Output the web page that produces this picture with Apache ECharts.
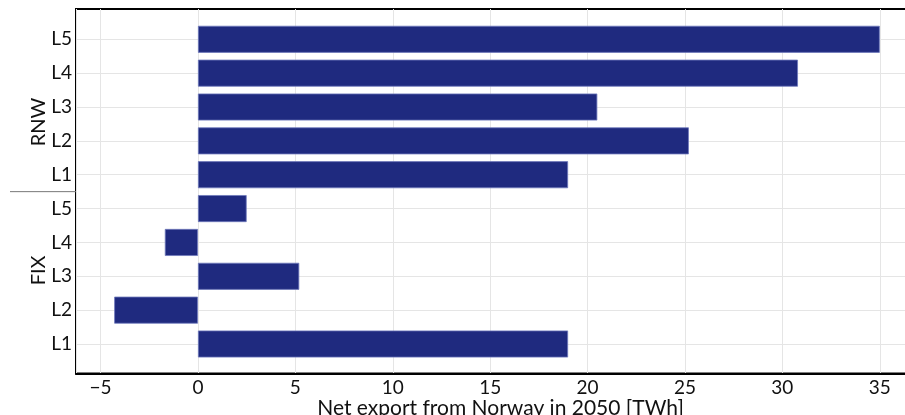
<!DOCTYPE html>
<html>
<head>
<meta charset="utf-8">
<script src="https://cdn.jsdelivr.net/npm/echarts@6/dist/echarts.min.js"></script>
<style>
  html, body { margin: 0; padding: 0; background: #fff; }
  #chart { width: 905px; height: 415px; }
</style>
</head>
<body>
<div id="chart"></div>
<script>
// Scenario groups and load levels (bottom to top on the axis)
const groups = ['FIX', 'RNW'];
const levels = ['L1', 'L2', 'L3', 'L4', 'L5'];

// Net export from Norway in 2050 [TWh], per level L1..L5
const fixValues = [19.0, -4.3, 5.2, -1.7, 2.5];
const rnwValues = [19.0, 25.2, 20.5, 30.8, 35.0];

// x-axis range and tick step
const xMin = -6.26;
const xMax = 36.5;
const xStep = 5;

const FONT = 'Lato';
const categories = [];
const values = [];
groups.forEach(function (g, gi) {
  const vals = gi === 0 ? fixValues : rnwValues;
  levels.forEach(function (l, li) {
    categories.push(g + ' ' + l);
    values.push(vals[li]);
  });
});

function fmtTick(v) {
  if (Math.abs(v / xStep - Math.round(v / xStep)) > 1e-6) return '';
  return v < 0 ? '\u2212' + Math.abs(v) : String(v);
}

const chart = echarts.init(document.getElementById('chart'), null, { renderer: 'canvas' });

chart.setOption({
  animation: false,
  backgroundColor: '#ffffff',
  textStyle: { fontFamily: FONT },
  grid: [
    // frame with the value axis and vertical grid lines (right edge runs past the canvas)
    { left: 76, width: 833, top: 9, bottom: 41.5, show: true, borderColor: '#000', borderWidth: 2,
      containLabel: false, outerBoundsMode: 'none' },
    // band holding the bars, with categories on its ticks
    { left: 76, width: 833, top: 39.3, bottom: 71, containLabel: false, outerBoundsMode: 'none' }
  ],
  xAxis: [
    {
      gridIndex: 0, type: 'value', min: xMin, max: xMax,
      minInterval: xStep, maxInterval: xStep,
      axisLine: { show: true, onZero: false, lineStyle: { color: '#000', width: 2 } },
      axisTick: { show: false },
      axisLabel: { show: true, color: '#111', fontSize: 19, fontFamily: FONT, margin: 5,
        showMinLabel: false, showMaxLabel: false, formatter: fmtTick },
      splitLine: { show: true, lineStyle: { color: '#e5e5e5', width: 1 } },
      name: 'Net export from Norway in 2050 [TWh]',
      nameLocation: 'middle', nameGap: 24, nameMoveOverlap: false,
      nameTextStyle: { color: '#111', fontSize: 21, fontFamily: FONT, padding: [0, 0, 0, 16] }
    },
    {
      gridIndex: 1, type: 'value', min: xMin, max: xMax, show: false,
      splitLine: { show: false }
    }
  ],
  yAxis: [
    {
      gridIndex: 0, type: 'value', min: 0, max: 1, show: false,
      axisLine: { show: false }, splitLine: { show: false }
    },
    {
      gridIndex: 1, type: 'category', data: categories, boundaryGap: false,
      axisLine: { show: false }, axisTick: { show: false },
      axisLabel: { color: '#111', fontSize: 19, fontFamily: FONT, margin: 4,
        formatter: function (v) { return v.split(' ')[1]; } },
      splitLine: { show: true, lineStyle: { color: '#e5e5e5', width: 1 } }
    }
  ],
  series: [{
    type: 'bar',
    xAxisIndex: 1, yAxisIndex: 1,
    data: values,
    barWidth: 27,
    itemStyle: { color: '#1f2a7f', borderColor: '#6f78bb', borderWidth: 0.8 },
    z: 3
  }]
});

// Group labels and divider on the left of the category axis
function py(cat) { return chart.convertToPixel({ yAxisIndex: 1 }, cat); }
const dividerY = (py('FIX L5') + py('RNW L1')) / 2;
const rnwY = (py('RNW L3') + py('RNW L2')) / 2 - 2;
const fixY = (py('FIX L3') + py('FIX L4')) / 2 + 11;

chart.setOption({
  graphic: [
    { type: 'line', shape: { x1: 10, y1: dividerY, x2: 76, y2: dividerY },
      style: { stroke: '#777', lineWidth: 1 }, silent: true },
    { type: 'text', x: 39, y: rnwY, rotation: Math.PI / 2,
      style: { text: 'RNW', font: '20px ' + FONT, fill: '#111', align: 'center', verticalAlign: 'middle' } },
    { type: 'text', x: 39, y: fixY, rotation: Math.PI / 2,
      style: { text: 'FIX', font: '20px ' + FONT, fill: '#111', align: 'center', verticalAlign: 'middle' } }
  ]
});
</script>
</body>
</html>
